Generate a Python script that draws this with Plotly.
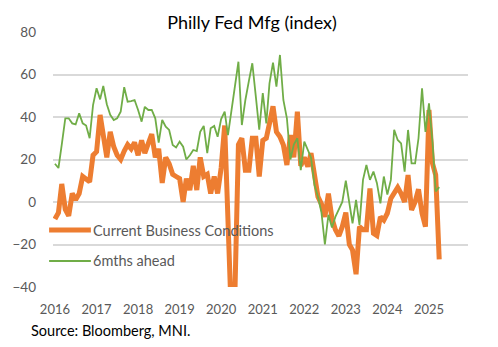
import pandas as pd
import plotly.graph_objects as go

# Monthly observations, Jan 2016 - Apr 2025
months = pd.date_range("2016-01-01", "2025-04-01", freq="MS")

current_conditions = [
    # 2016
    -8, -5, 8.5, -3.5, -6.5, 4, 1, 4, 12, 11, 9.5, 22,
    # 2017
    23.7, 41, 30, 21, 33, 26, 22, 20, 24, 27, 25, 28,
    # 2018
    22, 29, 23, 27.5, 32, 21, 25, 9, 21, 18, 13, 12,
    # 2019
    11, 0, 11, 5.6, 17, 5.6, 21, 12, 13, 4, 12, 4,
    # 2020
    16, 36, -13, -56, -43, 27, 30, 15, 15, 30, 30, 12,
    # 2021
    29, 30, 37, 45, 33, 30.7, 26.8, 17.4, 31.5, 21, 42.5, 17,
    # 2022
    21, 16.6, 23, 10.4, 2.5, -1, -7, 4, -7.6, -13, -16, -11.6,
    # 2023
    -5, -20, -22.6, -34, -11.6, -13, -13, 6.4, -14.7, -15.8, -7, -8.5,
    # 2024
    -5.3, 1.7, 4, 6.9, 4, 0, 12.7, -3.8, 0, 6, -5.3, -11.6,
    # 2025
    43.3, 18.2, 12.7, -27,
]

six_months_ahead = [
    # 2016
    18, 16, 27, 39.4, 39.4, 37, 36.5, 41.7, 37, 36, 30, 45.6,
    # 2017
    53.5, 48.3, 54.6, 46, 41, 38.6, 39.4, 42.5, 54, 47.2, 47.5, 48,
    # 2018
    43.3, 37.8, 44.8, 43.3, 43.3, 39.4, 28, 38.6, 35.4, 33.9, 26.8, 25.7,
    # 2019
    28.4, 26, 20, 22, 24.5, 24, 33, 35.8, 23, 34.7, 35.8, 30.7,
    # 2020
    39, 42.5, 31.5, 43, 54, 66, 36.2, 48, 57, 65.3, 49.6, 34,
    # 2021
    51.2, 37, 55.8, 65.6, 54.3, 69.2, 48, 39.4, 20, 27, 30, 15,
    # 2022
    28.4, 24.5, 21, 8, 2.5, -5, -20, -6, -12, -7, -3, 0,
    # 2023
    10, -1.4, -10, 1, -10.8, 10.4, 17.4, 10.4, 14.3, 9, -0.6, 12,
    # 2024
    3.5, 10.4, 34, 29.2, 27.6, 14.3, 33.9, 18.2, 18.2, 30, 53.5, 33,
    # 2025
    46.4, 28, 5, 7,
]

series_names = ["Current Business Conditions", "6mths ahead"]
year_ticks = pd.date_range("2016-01-01", "2025-01-01", freq="YS")
year_labels = [str(d.year) for d in year_ticks]
y_ticks = [-40, -20, 0, 20, 40, 60, 80]

ORANGE = "#ED7D31"
GREEN = "#70AD47"
GREY_TEXT = "#595959"
GRID = "#D9D9D9"
FONT = "Lato"

fig = go.Figure()
fig.add_trace(go.Scatter(
    x=months, y=current_conditions, mode="lines", name=series_names[0],
    line=dict(color=ORANGE, width=5), showlegend=False,
))
fig.add_trace(go.Scatter(
    x=months, y=six_months_ahead, mode="lines", name=series_names[1],
    line=dict(color=GREEN, width=1.8), showlegend=False,
))

# Legend drawn inside the lower-left of the plot
legend_rows = [(series_names[0], ORANGE, 5, 0.2235), (series_names[1], GREEN, 1.8, 0.102)]
for label, color, width, ypos in legend_rows:
    fig.add_shape(type="line", xref="paper", yref="paper",
                  x0=-0.0094, x1=0.0913, y0=ypos, y1=ypos,
                  line=dict(color=color, width=width))
    fig.add_annotation(xref="paper", yref="paper", x=0.092, y=ypos,
                       text=label, showarrow=False, xanchor="left", yanchor="middle",
                       font=dict(family=FONT, size=14.5, color=GREY_TEXT))

fig.add_annotation(xref="paper", yref="paper", x=-0.058, y=-0.17,
                   text="Source: Bloomberg, MNI.", showarrow=False,
                   xanchor="left", yanchor="middle",
                   font=dict(family=FONT, size=14.5, color="#000000"))

fig.update_layout(
    width=498, height=347,
    margin=dict(l=41, r=30, t=32, b=60),
    paper_bgcolor="white", plot_bgcolor="white",
    title=dict(text="Philly Fed Mfg (index)", x=0.506, y=0.934,
               xref="container", yref="container",
               xanchor="center", yanchor="middle",
               font=dict(family=FONT, size=18, color="#000000")),
    xaxis=dict(
        type="date",
        range=["2015-12-15", "2025-12-10"],
        tickvals=list(year_ticks), ticktext=year_labels,
        showgrid=False, zeroline=False, showline=False,
        ticks="", ticklabelstandoff=13,
        tickfont=dict(family=FONT, size=13, color=GREY_TEXT),
    ),
    yaxis=dict(
        range=[-40, 80], tickvals=y_ticks,
        showgrid=True, gridcolor=GRID, gridwidth=1.5,
        zeroline=False, showline=False, ticks="", ticklabelstandoff=16,
        tickfont=dict(family=FONT, size=13.5, color=GREY_TEXT),
    ),
)

fig.write_html("out.html")
